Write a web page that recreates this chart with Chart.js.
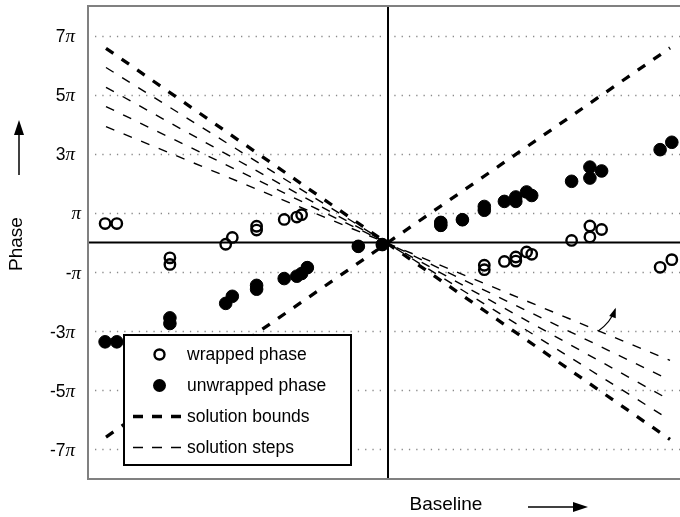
<!DOCTYPE html>
<html>
<head>
<meta charset="utf-8">
<script src="https://cdn.jsdelivr.net/npm/chart.js@4/dist/chart.umd.min.js"></script>
<style>
  html, body { margin: 0; padding: 0; background: #fff; overflow: hidden; }
  #wrap { width: 680px; height: 517px; }
</style>
</head>
<body>
<div id="wrap"><canvas id="c" width="680" height="517"></canvas></div>
<script>
// Baseline position of each measurement (arbitrary units, 0 = reference point)
const baseline = [-0.943, -0.904, -0.727, -0.727, -0.541, -0.519, -0.438, -0.438,
  -0.346, -0.304, -0.288, -0.269, -0.099, -0.019, 0.176, 0.176, 0.248, 0.321, 0.321,
  0.388, 0.426, 0.426, 0.462, 0.479, 0.612, 0.673, 0.673, 0.712, 0.907, 0.946];
// Phases in units of pi
const unwrappedPhase = [-3.36, -3.36, -2.55, -2.74, -2.06, -1.82, -1.45, -1.58,
  -1.22, -1.14, -1.05, -0.85, -0.13, -0.07, 0.68, 0.58, 0.77, 1.22, 1.09,
  1.39, 1.54, 1.39, 1.71, 1.59, 2.07, 2.55, 2.18, 2.42, 3.14, 3.39];
const wrappedPhase = [0.64, 0.64, -0.52, -0.74, -0.06, 0.17, 0.55, 0.42,
  0.78, 0.86, 0.94, -0.85, -0.13, -0.07, 0.68, 0.58, 0.77, -0.77, -0.92,
  -0.64, -0.49, -0.63, -0.32, -0.40, 0.07, 0.56, 0.19, 0.44, -0.84, -0.58];

// Line end points (baseline, phase in pi)
const lineBaseline = [-0.94, 0.94];
const boundRising = [-6.58, 6.58];
const boundFalling = [6.57, -6.66];
const solutionSteps = [
  [5.92, -6.00],
  [5.25, -5.33],
  [4.60, -4.66],
  [3.92, -3.99]
];

// Y tick values (pi units) and their labels
const yTickValues = [-7, -5, -3, -1, 1, 3, 5, 7];
const yTickLabels = ['-7π', '-5π', '-3π', '-π', 'π', '3π', '5π', '7π'];

// Curved pointer near the step lines (baseline, phase in pi)
const pointerFrom = [0.701, -2.99];
const pointerTo = [0.757, -2.27];

const SANS = '"Liberation Sans", Arial, sans-serif';
const SERIF = '"Liberation Serif", "DejaVu Serif", serif';

function pts(xs, ys) { return xs.map((x, i) => ({ x: x, y: ys[i] })); }

const datasets = [
  {
    label: 'unwrapped phase',
    data: pts(baseline, unwrappedPhase),
    pointRadius: 6.3, pointHoverRadius: 6.3,
    pointBackgroundColor: '#000', pointBorderColor: '#000', pointBorderWidth: 1,
    showLine: false, order: 0
  },
  {
    label: 'wrapped phase',
    data: pts(baseline, wrappedPhase),
    pointRadius: 5.2, pointHoverRadius: 5.2,
    pointBackgroundColor: 'rgba(0,0,0,0)', pointBorderColor: '#000', pointBorderWidth: 2.4,
    showLine: false, order: 1
  },
  {
    label: 'solution bounds',
    data: pts(lineBaseline, boundRising),
    showLine: true, pointRadius: 0, borderColor: '#000', borderWidth: 3.3,
    borderDash: [9, 10], order: 3
  },
  {
    label: 'solution bounds (falling)',
    data: pts(lineBaseline, boundFalling),
    showLine: true, pointRadius: 0, borderColor: '#000', borderWidth: 3.3,
    borderDash: [9, 10], order: 3
  }
];
solutionSteps.forEach((s, i) => {
  datasets.push({
    label: i === 0 ? 'solution steps' : 'solution steps ' + i,
    data: pts(lineBaseline, s),
    showLine: true, pointRadius: 0, borderColor: '#000', borderWidth: 1.4,
    borderDash: [9, 10], order: 2
  });
});

const legendItems = [
  { text: 'wrapped phase', kind: 'open' },
  { text: 'unwrapped phase', kind: 'filled' },
  { text: 'solution bounds', kind: 'thick' },
  { text: 'solution steps', kind: 'thin' }
];

const decor = {
  id: 'decor',
  beforeDatasetsDraw(chart) {
    const { ctx, chartArea: a, scales } = chart;
    const xs = scales.x, ys = scales.y;
    ctx.save();
    // dotted grid at tick values
    ctx.strokeStyle = '#8a8a8a';
    ctx.lineWidth = 1.3;
    ctx.setLineDash([1.3, 6]);
    yTickValues.forEach(v => {
      const y = Math.round(ys.getPixelForValue(v)) + 0.5;
      ctx.beginPath();
      ctx.moveTo(a.left + 7, y);
      ctx.lineTo(a.right, y);
      ctx.stroke();
    });
    ctx.setLineDash([]);
    // zero axes
    ctx.strokeStyle = '#000';
    ctx.lineWidth = 2;
    const y0 = ys.getPixelForValue(0);
    const x0 = xs.getPixelForValue(0);
    ctx.beginPath(); ctx.moveTo(a.left, y0); ctx.lineTo(a.right, y0); ctx.stroke();
    ctx.beginPath(); ctx.moveTo(x0, a.top); ctx.lineTo(x0, a.bottom); ctx.stroke();
    // frame
    ctx.strokeStyle = '#808080';
    ctx.lineWidth = 2;
    ctx.beginPath();
    ctx.moveTo(a.right, a.top); ctx.lineTo(a.left, a.top);
    ctx.lineTo(a.left, a.bottom); ctx.lineTo(a.right, a.bottom);
    ctx.stroke();
    ctx.restore();
  },
  afterDatasetsDraw(chart) {
    const { ctx, scales } = chart;
    const xs = scales.x, ys = scales.y;
    ctx.save();
    // curved pointer
    const fx = xs.getPixelForValue(pointerFrom[0]), fy = ys.getPixelForValue(pointerFrom[1]);
    const tx = xs.getPixelForValue(pointerTo[0]), ty = ys.getPixelForValue(pointerTo[1]);
    const cx = (fx + tx) / 2 + 4, cy = (fy + ty) / 2 + 2;
    ctx.strokeStyle = '#000'; ctx.fillStyle = '#000'; ctx.lineWidth = 1.2;
    ctx.beginPath(); ctx.moveTo(fx, fy); ctx.quadraticCurveTo(cx, cy, tx, ty); ctx.stroke();
    const ang = Math.atan2(ty - cy, tx - cx);
    ctx.beginPath();
    ctx.moveTo(tx + 2 * Math.cos(ang), ty + 2 * Math.sin(ang));
    ctx.lineTo(tx - 8 * Math.cos(ang) + 3.5 * Math.sin(ang), ty - 8 * Math.sin(ang) - 3.5 * Math.cos(ang));
    ctx.lineTo(tx - 8 * Math.cos(ang) - 3.5 * Math.sin(ang), ty - 8 * Math.sin(ang) + 3.5 * Math.cos(ang));
    ctx.closePath(); ctx.fill();

    // legend box
    const L = 124, T = 335, W = 227, H = 130;
    ctx.fillStyle = '#fff';
    ctx.fillRect(L, T, W, H);
    ctx.strokeStyle = '#000'; ctx.lineWidth = 2;
    ctx.strokeRect(L, T, W, H);
    ctx.font = '17.5px ' + SANS;
    ctx.textBaseline = 'middle';
    ctx.textAlign = 'left';
    legendItems.forEach((it, i) => {
      const y = T + 19.5 + i * 31;
      ctx.fillStyle = '#000'; ctx.strokeStyle = '#000';
      if (it.kind === 'open') {
        ctx.lineWidth = 2.4;
        ctx.beginPath(); ctx.arc(159.5, y, 5, 0, Math.PI * 2); ctx.stroke();
      } else if (it.kind === 'filled') {
        ctx.beginPath(); ctx.arc(159.5, y, 6.5, 0, Math.PI * 2); ctx.fill();
      } else {
        ctx.lineWidth = it.kind === 'thick' ? 3.3 : 1.4;
        ctx.setLineDash([10, 9]);
        ctx.beginPath(); ctx.moveTo(133, y); ctx.lineTo(182, y); ctx.stroke();
        ctx.setLineDash([]);
      }
      ctx.fillText(it.text, 187, y + 0.5);
    });
    ctx.restore();
  },
  afterDraw(chart) {
    const { ctx, scales } = chart;
    const ys = scales.y;
    ctx.save();
    ctx.fillStyle = '#000';
    ctx.textBaseline = 'alphabetic';
    // y tick labels: numeral in sans, pi in italic serif
    yTickValues.forEach((v, i) => {
      const lab = yTickLabels[i];
      const pre = lab.slice(0, lab.length - 1);
      const y = ys.getPixelForValue(v) + 6.5;
      const right = Math.abs(v) === 1 ? 81 : 75;
      ctx.font = 'italic 19px ' + SERIF;
      const wp = ctx.measureText('π').width;
      ctx.textAlign = 'left';
      ctx.fillText('π', right - wp, y);
      ctx.font = '17.5px ' + SANS;
      const wn = ctx.measureText(pre).width;
      ctx.fillText(pre, right - wp - wn, y);
    });
    // axis titles
    ctx.font = '19px ' + SANS;
    ctx.textAlign = 'center';
    ctx.textBaseline = 'middle';
    ctx.fillText('Baseline', 446, 505);
    ctx.save();
    ctx.translate(17, 244);
    ctx.rotate(-Math.PI / 2);
    ctx.fillText('Phase', 0, 0);
    ctx.restore();
    // direction arrows
    ctx.strokeStyle = '#000'; ctx.lineWidth = 1.5;
    ctx.beginPath(); ctx.moveTo(528, 507); ctx.lineTo(576, 507); ctx.stroke();
    ctx.beginPath(); ctx.moveTo(588, 507); ctx.lineTo(573, 502); ctx.lineTo(573, 512); ctx.closePath(); ctx.fill();
    ctx.beginPath(); ctx.moveTo(19, 175); ctx.lineTo(19, 132); ctx.stroke();
    ctx.beginPath(); ctx.moveTo(19, 120); ctx.lineTo(14, 135); ctx.lineTo(24, 135); ctx.closePath(); ctx.fill();
    ctx.restore();
  }
};

new Chart(document.getElementById('c'), {
  type: 'scatter',
  data: { datasets: datasets },
  options: {
    responsive: false,
    animation: false,
    layout: { autoPadding: false, padding: { left: 88, top: 6, right: 0, bottom: 38 } },
    plugins: { legend: { display: false }, tooltip: { enabled: false } },
    scales: {
      x: { type: 'linear', min: -1, max: 0.9733, display: false },
      y: { type: 'linear', min: -8, max: 8, display: false }
    }
  },
  plugins: [decor]
});
</script>
</body>
</html>
